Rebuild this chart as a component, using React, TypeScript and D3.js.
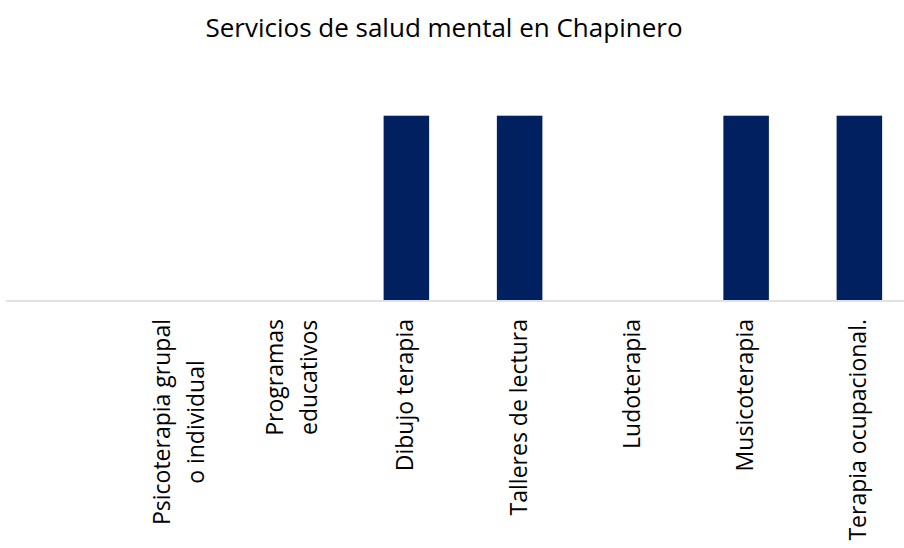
import React, { useEffect, useRef } from 'react';
import * as d3 from 'd3';

// categories, the first slot is blank in the source chart
const categories: string[][] = [
  [''],
  ['Psicoterapia grupal', 'o individual'],
  ['Programas', 'educativos'],
  ['Dibujo terapia'],
  ['Talleres de lectura'],
  ['Ludoterapia'],
  ['Musicoterapia'],
  ['Terapia ocupacional.'],
];
const values: number[] = [0, 0, 0, 1, 1, 0, 1, 1];
const title = 'Servicios de salud mental en Chapinero';

const W = 904;
const H = 548;
const FONT = "'Open Sans', 'Noto Sans', sans-serif";

export default function App() {
  const svgRef = useRef<SVGSVGElement | null>(null);

  useEffect(() => {
    if (!svgRef.current) return;
    const svg = d3.select(svgRef.current);
    svg.selectAll('*').remove();

    const x = d3
      .scaleBand<number>()
      .domain(d3.range(categories.length))
      .range([10, 916])
      .paddingInner(0.598)
      .paddingOuter(0.299);

    const y = d3.scaleLinear().domain([0, 1]).range([300, 115.7]);

    // title
    svg
      .append('text')
      .attr('x', 444)
      .attr('y', 37)
      .attr('text-anchor', 'middle')
      .attr('font-family', FONT)
      .attr('font-size', 26)
      .attr('fill', '#000')
      .text(title);

    // bars
    svg
      .append('g')
      .selectAll('rect')
      .data(values)
      .enter()
      .append('rect')
      .attr('x', (_, i) => x(i)!)
      .attr('width', x.bandwidth())
      .attr('y', (d) => y(d))
      .attr('height', (d) => y(0) - y(d))
      .attr('fill', '#00205F');

    // category axis line
    svg
      .append('line')
      .attr('x1', 6)
      .attr('x2', W)
      .attr('y1', 301)
      .attr('y2', 301)
      .attr('stroke', '#D9D9D9')
      .attr('stroke-width', 1.5);

    // rotated category labels, lines centred on each other, block anchored near the axis
    const lineH = 34;
    const labels = svg.append('g');
    categories.forEach((lines, i) => {
      const cx = x(i)! + x.bandwidth() / 2;
      const g = labels.append('g');
      const texts = lines.map((t) =>
        g
          .append('text')
          .attr('font-family', FONT)
          .attr('font-size', 23)
          .attr('fill', '#000')
          .attr('text-anchor', 'middle')
          .text(t)
      );
      const maxW = d3.max(texts, (t) => (t.node() as SVGTextElement).getComputedTextLength()) || 0;
      const n = lines.length;
      texts.forEach((t, j) => {
        const off = (j - (n - 1) / 2) * lineH;
        t.attr('transform', `translate(${cx + off + 7},${319 + maxW / 2}) rotate(-90)`);
      });
    });
  }, []);

  return (
    <svg
      ref={svgRef}
      width={W}
      height={H}
      style={{ position: 'absolute', left: 0, top: 0, background: '#fff' }}
    />
  );
}
